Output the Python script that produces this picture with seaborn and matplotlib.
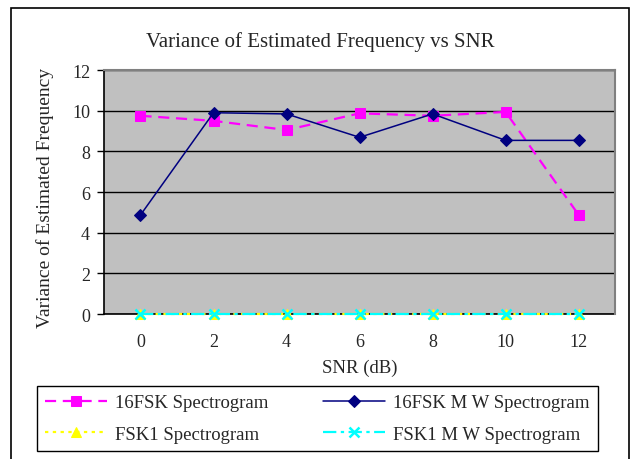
import pandas as pd
import matplotlib.pyplot as plt
import matplotlib.patches as mpatches
import seaborn as sns

# values
snr = [0, 2, 4, 6, 8, 10, 12]
fsk16_spec = [9.75, 9.5, 9.05, 9.87, 9.75, 9.94, 4.88]
fsk16_mw = [4.87, 9.9, 9.84, 8.69, 9.84, 8.54, 8.54]
fsk1_spec = [0, 0, 0, 0, 0, 0, 0]
fsk1_mw = [0, 0, 0, 0, 0, 0, 0]
y_ticks = [0, 2, 4, 6, 8, 10, 12]

sns.set_style("white")
plt.rcParams['font.family'] = ['Liberation Serif', 'DejaVu Serif']

fig = plt.figure(figsize=(6.31, 4.6), dpi=100)
ax = fig.add_axes([0.1648, 0.3152, 0.81, 0.5304])
ax.set_facecolor("#C0C0C0")

df = pd.DataFrame({"SNR": snr, "a": fsk16_spec, "b": fsk16_mw, "c": fsk1_spec, "d": fsk1_mw})

# --- the four series ---
sns.lineplot(data=df, x="SNR", y="a", ax=ax, color="#FF00FF", lw=1.6,
             linestyle=(0, (5, 3)), marker="s", markersize=7, markeredgecolor="#FF00FF",
             label="16FSK Spectrogram", zorder=3, clip_on=False)
sns.lineplot(data=df, x="SNR", y="b", ax=ax, color="#000080", lw=1.1,
             marker="D", markersize=6.5, markeredgecolor="#000080",
             label="16FSK M W Spectrogram", zorder=4, clip_on=False)
sns.lineplot(data=df, x="SNR", y="c", ax=ax, color="#FFFF00", lw=1.6,
             linestyle=(0, (1.5, 2)), marker="^", markersize=7, markeredgecolor="#FFFF00",
             label="FSK1 Spectrogram", zorder=5, clip_on=False)
sns.lineplot(data=df, x="SNR", y="d", ax=ax, color="#00FFFF", lw=1.6,
             linestyle=(0, (6, 2, 1.5, 2)), marker="x", markersize=7, markeredgewidth=1.8,
             markeredgecolor="#00FFFF",
             label="FSK1 M W Spectrogram", zorder=6, clip_on=False)

# axes / ticks
ax.set_xlim(-1, 13)
ax.set_ylim(0, 12)
ax.set_xticks(snr)
ax.set_xticks([s + 1 for s in [-2] + snr], minor=True)
ax.set_yticks(y_ticks)
ax.tick_params(axis="x", which="major", length=0, pad=14, labelsize=13)
ax.tick_params(axis="x", which="minor", length=5, width=1, direction="out", color="black")
ax.tick_params(axis="y", which="major", length=5, width=1, direction="out", color="black",
               labelsize=13, left=True, pad=5)
ax.yaxis.grid(True, color="black", lw=1)
ax.xaxis.grid(False)
ax.set_axisbelow(True)

for side in ["left", "bottom"]:
    ax.spines[side].set_color("black")
    ax.spines[side].set_linewidth(1.2)
    ax.spines[side].set_zorder(2)
for side in ["top", "right"]:
    ax.spines[side].set_color("#808080")
    ax.spines[side].set_linewidth(1.5)

ax.set_xlabel("SNR (dB)", fontsize=13.5, labelpad=6)
ax.set_ylabel("Variance of Estimated Frequency", fontsize=14)
ax.yaxis.set_label_coords(-0.098, 0.48)
fig.text(0.508, 0.909, "Variance of Estimated Frequency vs SNR", ha="center", va="center", fontsize=15)

# legend below the plot (row-major order like the original)
handles, labels = ax.get_legend_handles_labels()
order = [0, 2, 1, 3]
ax.get_legend().remove()
leg = fig.legend([handles[i] for i in order], [labels[i] for i in order],
                 loc="lower left", ncol=2, bbox_to_anchor=(37 / 631, 0.0174),
                 fontsize=13.5, handlelength=3.3, handletextpad=0.43, columnspacing=2.9,
                 borderaxespad=0, fancybox=False, edgecolor="black", framealpha=1,
                 borderpad=0.45, labelspacing=0.75)
leg.get_frame().set_linewidth(1)

# outer chart border
fig.patches.append(mpatches.Rectangle((11 / 631, -0.01), 618 / 631, 1 - 9 / 460 + 0.01,
                                      transform=fig.transFigure, fill=False,
                                      edgecolor="black", lw=1.2))

fig.savefig("out.png", dpi=100)
